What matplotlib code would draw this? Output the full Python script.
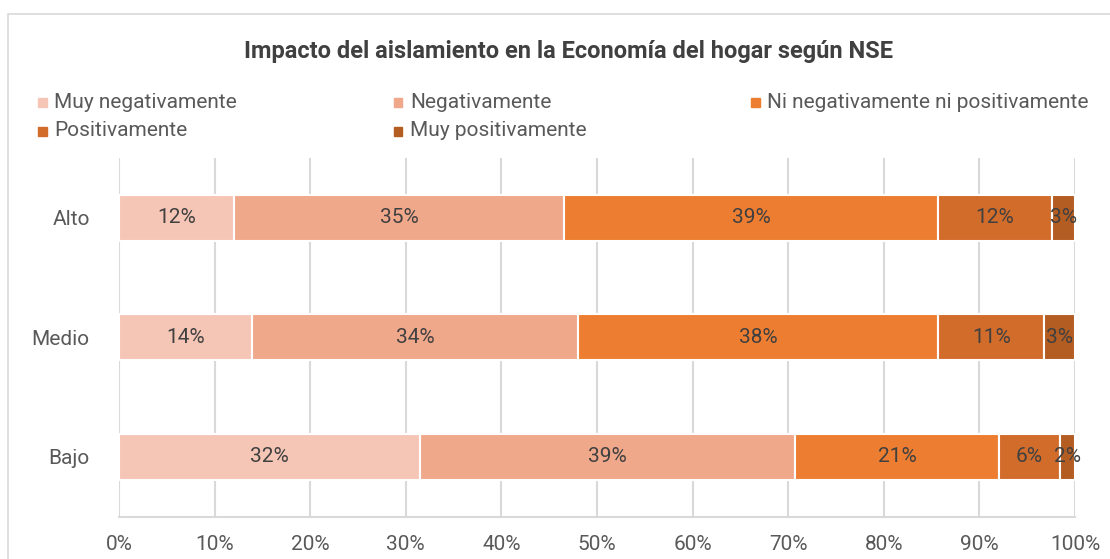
import matplotlib.pyplot as plt
from matplotlib.patches import Rectangle
import numpy as np

plt.rcParams['font.family'] = ['Roboto', 'DejaVu Sans']

groups = ['Bajo', 'Medio', 'Alto']
series = ['Muy negativamente', 'Negativamente', 'Ni negativamente ni positivamente',
          'Positivamente', 'Muy positivamente']
colors = ['#F5C6B6', '#F0A88B', '#ED7D31', '#D26C2B', '#B35D22']

# percentages per series, order Bajo, Medio, Alto
muy_neg = [31.5, 13.9, 12.0]
neg = [39.2, 34.1, 34.6]
ni_ni = [21.4, 37.7, 39.1]
pos = [6.3, 11.1, 11.9]
muy_pos = [1.6, 3.2, 2.4]
values = [muy_neg, neg, ni_ni, pos, muy_pos]

# labels as shown on the chart
lab_muy_neg = ['32%', '14%', '12%']
lab_neg = ['39%', '34%', '35%']
lab_ni_ni = ['21%', '38%', '39%']
lab_pos = ['6%', '11%', '12%']
lab_muy_pos = ['2%', '3%', '3%']
labels = [lab_muy_neg, lab_neg, lab_ni_ni, lab_pos, lab_muy_pos]

W, H = 1110, 559
fig = plt.figure(figsize=(W / 100, H / 100), dpi=100)
ax = fig.add_axes([119 / W, 1 - 516.5 / H, (1075 - 119) / W, (516.5 - 158) / H])

y = np.arange(len(groups))
left = np.zeros(len(groups))
for vals, labs, col in zip(values, labels, colors):
    ax.barh(y, vals, left=left, height=0.386, color=col, edgecolor='white', linewidth=1.5, zorder=3)
    for yi, v, l, lab in zip(y, vals, left, labs):
        ax.text(l + v / 2, yi, lab, ha='center', va='center', fontsize=15, color='#404040', zorder=4)
    left += np.array(vals)

ax.set_xlim(0, 100)
ax.set_ylim(-0.5, 2.5)
ax.set_xticks(np.arange(0, 101, 10))
ax.set_xticklabels([f'{t}%' for t in range(0, 101, 10)])
ax.set_yticks(y)
ax.set_yticklabels(groups)
ax.tick_params(axis='both', length=0, labelsize=15, colors='#595959')
ax.tick_params(axis='x', pad=13)
ax.tick_params(axis='y', pad=21)
ax.grid(axis='x', color='#D9D9D9', linewidth=1.5, zorder=0)
for s in ['top', 'right', 'left']:
    ax.spines[s].set_visible(False)
ax.spines['bottom'].set_color('#D9D9D9')
ax.spines['bottom'].set_linewidth(1.5)

fig.text(569 / W, 1 - 52 / H, 'Impacto del aislamiento en la Economía del hogar según NSE',
         ha='center', va='center', fontsize=17, fontweight='bold', color='#404040')

# legend laid out like the original (3 columns, 2 rows)
leg_pos = [(42, 102), (398, 102), (755, 102), (42, 131), (398, 131)]
for (lx, ly), name, col in zip(leg_pos, series, colors):
    fig.patches.append(Rectangle(((lx - 4.5) / W, 1 - (ly + 4.5) / H), 9 / W, 9 / H,
                                 transform=fig.transFigure, color=col))
    fig.text((lx + 12) / W, 1 - ly / H, name, ha='left', va='center', fontsize=15, color='#595959')

# chart border
fig.patches.append(Rectangle((8 / W, -0.1), 1.2, 1 - 14 / H + 0.1, transform=fig.transFigure,
                             fill=False, edgecolor='#D9D9D9', linewidth=1.2))

fig.savefig('out.png', dpi=100)
